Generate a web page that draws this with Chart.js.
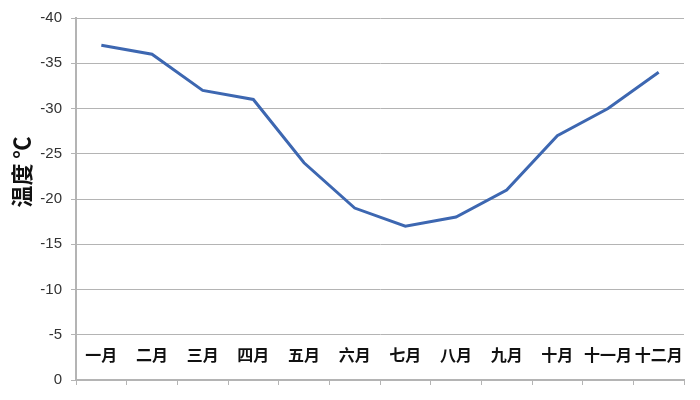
<!DOCTYPE html>
<html lang="zh">
<head>
  <meta charset="UTF-8">
  <title>温度</title>
  <style>
    body { margin: 0; background: #fff; }
    #wrap { width: 700px; height: 400px; }
  </style>
</head>
<body>
  <div id="wrap"><canvas id="tempChart" width="700" height="400"></canvas></div>

  <script src="https://cdn.jsdelivr.net/npm/chart.js"></script>
  <script>
    const months = ['一月', '二月', '三月', '四月', '五月', '六月', '七月', '八月', '九月', '十月', '十一月', '十二月'];
    const temps = [-37, -36, -32, -31, -24, -19, -17, -18, -21, -27, -30, -34];
    const yTicks = [0, -5, -10, -15, -20, -25, -30, -35, -40];
    const yTitle = '温度 ℃';

    const cjk = '"Noto Sans CJK SC", "Noto Sans", sans-serif';

    // month names sit inside the plot, just above the 0 line; axis title a bit above center
    const extraText = {
      id: 'extraText',
      afterDatasetsDraw(chart) {
        const x = chart.scales.x;
        const c = chart.ctx;
        c.save();
        c.font = 'bold 16px ' + cjk;
        c.fillStyle = '#111';
        c.textAlign = 'center';
        c.textBaseline = 'middle';
        months.forEach((m, i) => {
          c.fillText(m, x.getPixelForValue(i), chart.chartArea.bottom - 25);
        });
        c.translate(22, 172);
        c.rotate(-Math.PI / 2);
        c.font = 'bold 22px ' + cjk;
        c.fillText(yTitle, 0, 0);
        c.restore();
      }
    };

    new Chart(document.getElementById('tempChart'), {
      type: 'line',
      data: {
        labels: months,
        datasets: [{
          data: temps,
          borderColor: '#3d67b1',
          borderWidth: 3,
          pointRadius: 0,
          tension: 0
        }]
      },
      options: {
        responsive: false,
        animation: false,
        plugins: { legend: { display: false }, tooltip: { enabled: false } },
        layout: { padding: { top: 14, right: 16, left: 10, bottom: 0 } },
        scales: {
          x: {
            offset: true,
            ticks: { display: false },
            grid: { offset: true, drawOnChartArea: false, tickLength: 5, color: '#b4b4b4', lineWidth: 1 },
            border: { color: '#b4b4b4', width: 2 },
            afterFit(s) { s.height = 20; }
          },
          y: {
            reverse: true,
            min: -40,
            max: 0,
            afterBuildTicks(s) { s.ticks = yTicks.map(v => ({ value: v })); },
            ticks: {
              color: '#333',
              font: { family: 'Liberation Sans, Arial, sans-serif', size: 15 },
              padding: 9
            },
            grid: { color: '#b4b4b4', lineWidth: 1, tickLength: 5 },
            border: { color: '#b4b4b4', width: 2 },
            afterFit(s) { s.width = 66; }
          }
        }
      },
      plugins: [extraText]
    });
  </script>
</body>
</html>
